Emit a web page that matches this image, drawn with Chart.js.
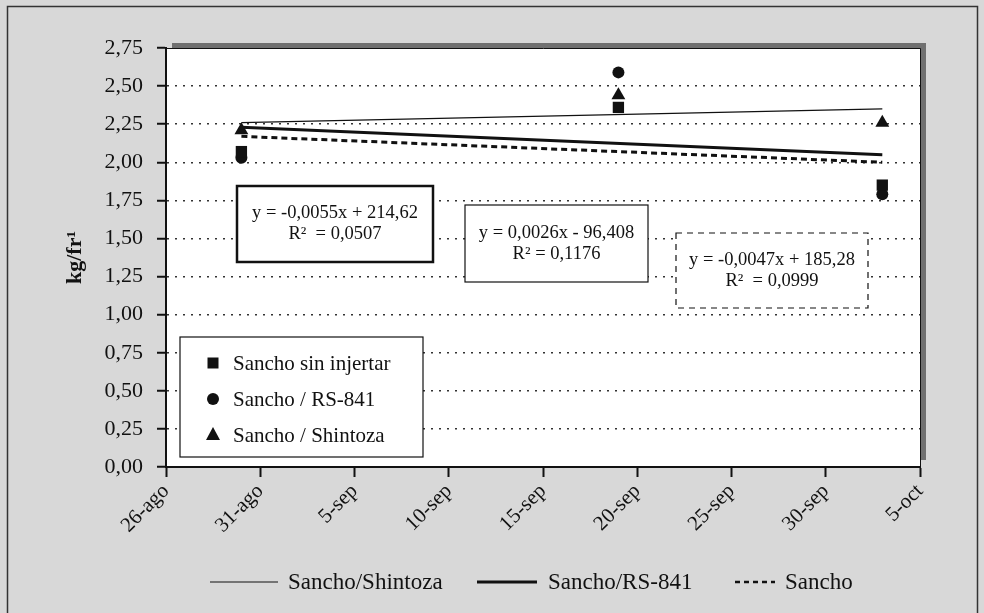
<!DOCTYPE html>
<html>
<head>
<meta charset="utf-8">
<script src="https://cdn.jsdelivr.net/npm/chart.js@4.4.1/dist/chart.umd.min.js"></script>
<style>
  html, body { margin: 0; padding: 0; background: #d8d8d8; }
  #wrap { width: 984px; height: 613px; }
</style>
</head>
<body>
<div id="wrap"><canvas id="chart" width="984" height="613"></canvas></div>
<script>
// tick labels of the date axis (day-month, Spanish)
const xTickLabels = ['26-ago', '31-ago', '5-sep', '10-sep', '15-sep', '20-sep', '25-sep', '30-sep', '5-oct'];

// sampling dates
const sampleDates = ['30-ago', '19-sep', '3-oct'];

// kg/fr values per graft
const sinInjertar = [2.07, 2.36, 1.85];
const rs841 = [2.03, 2.59, 1.79];
const shintoza = [2.21, 2.44, 2.26];

// trend lines, value at first and last sampling date
const trendShintoza = [2.26, 2.35];
const trendRS841 = [2.23, 2.05];
const trendSancho = [2.17, 2.00];

// regression labels
const eqRS841 = ['y = -0,0055x + 214,62', 'R²  = 0,0507'];
const eqShintoza = ['y = 0,0026x - 96,408', 'R² = 0,1176'];
const eqSancho = ['y = -0,0047x + 185,28', 'R²  = 0,0999'];

const FONT = '"Liberation Serif", "Times New Roman", serif';
const INK = '#111';

const monthStart = { ago: 0, sep: 31, oct: 61 };
function dayOffset(label) {
    const parts = label.split('-');
    return monthStart[parts[1]] + Number(parts[0]) - 26;
}

function points(values) {
    return values.map((v, i) => ({ x: dayOffset(sampleDates[i]), y: v }));
}

function trend(values) {
    return [
        { x: dayOffset(sampleDates[0]), y: values[0] },
        { x: dayOffset(sampleDates[sampleDates.length - 1]), y: values[1] }
    ];
}

function drawMarker(ctx, style, x, y) {
    ctx.fillStyle = INK;
    ctx.beginPath();
    if (style === 'rect') {
        ctx.rect(x - 5.5, y - 5.5, 11, 11);
    } else if (style === 'circle') {
        ctx.arc(x, y, 6, 0, Math.PI * 2);
    } else {
        ctx.moveTo(x, y - 8);
        ctx.lineTo(x + 7, y + 5);
        ctx.lineTo(x - 7, y + 5);
        ctx.closePath();
    }
    ctx.fill();
}

function drawEqBox(ctx, box) {
    ctx.save();
    ctx.fillStyle = '#fff';
    ctx.fillRect(box.x, box.y, box.w, box.h);
    ctx.strokeStyle = INK;
    ctx.lineWidth = box.lw;
    ctx.setLineDash(box.dash || []);
    ctx.strokeRect(box.x, box.y, box.w, box.h);
    ctx.setLineDash([]);
    ctx.fillStyle = INK;
    ctx.font = '18.5px ' + FONT;
    ctx.textAlign = 'center';
    ctx.textBaseline = 'middle';
    ctx.fillText(box.lines[0], box.x + box.w / 2, box.y + box.t1);
    ctx.fillText(box.lines[1], box.x + box.w / 2, box.y + box.t1 + 21);
    ctx.restore();
}

const framePlugin = {
    id: 'frame',
    beforeDraw(chart) {
        const ctx = chart.ctx;
        const ca = chart.chartArea;
        ctx.save();
        ctx.fillStyle = '#d8d8d8';
        ctx.fillRect(0, 0, chart.width, chart.height);
        ctx.strokeStyle = '#333';
        ctx.lineWidth = 1.5;
        ctx.strokeRect(7.5, 6.5, 970, 630);
        // shadow of the plot area
        ctx.fillStyle = '#707070';
        ctx.fillRect(ca.left + 6, ca.top - 5, ca.right - ca.left, 5);
        ctx.fillRect(ca.right, ca.top - 5, 6, ca.bottom - ca.top - 2);
        ctx.fillStyle = '#fff';
        ctx.fillRect(ca.left, ca.top, ca.right - ca.left, ca.bottom - ca.top);
        ctx.restore();
    },
    afterDraw(chart) {
        const ctx = chart.ctx;
        const ca = chart.chartArea;
        ctx.save();
        ctx.strokeStyle = INK;
        ctx.lineWidth = 1;
        ctx.beginPath();
        ctx.moveTo(ca.left, ca.top + 0.5);
        ctx.lineTo(ca.right + 0.5, ca.top + 0.5);
        ctx.lineTo(ca.right + 0.5, ca.bottom);
        ctx.stroke();

        drawEqBox(ctx, { x: 237, y: 186, w: 196, h: 76, lw: 2.5, t1: 27, lines: eqRS841 });
        drawEqBox(ctx, { x: 465, y: 205, w: 183, h: 77, lw: 1.2, t1: 28, lines: eqShintoza });
        drawEqBox(ctx, { x: 676, y: 233, w: 192, h: 75, lw: 1.2, dash: [6, 5], t1: 27, lines: eqSancho });

        // marker legend inside the plot
        ctx.fillStyle = '#fff';
        ctx.fillRect(180, 337, 243, 120);
        ctx.strokeStyle = INK;
        ctx.lineWidth = 1.2;
        ctx.strokeRect(180, 337, 243, 120);
        const items = [
            ['rect', 'Sancho sin injertar'],
            ['circle', 'Sancho / RS-841'],
            ['triangle', 'Sancho / Shintoza']
        ];
        ctx.font = '21px ' + FONT;
        ctx.textBaseline = 'middle';
        items.forEach((it, i) => {
            const y = 363 + i * 36;
            drawMarker(ctx, it[0], 213, y);
            ctx.fillStyle = INK;
            ctx.fillText(it[1], 233, y + 1);
        });

        // line legend under the axis
        const ly = 582;
        const lines = [
            { x1: 210, x2: 278, tx: 288, lw: 1.2, dash: [], text: 'Sancho/Shintoza' },
            { x1: 477, x2: 537, tx: 548, lw: 3, dash: [], text: 'Sancho/RS-841' },
            { x1: 735, x2: 775, tx: 785, lw: 2.5, dash: [5, 4], text: 'Sancho' }
        ];
        ctx.font = '23px ' + FONT;
        lines.forEach(l => {
            ctx.strokeStyle = INK;
            ctx.lineWidth = l.lw;
            ctx.setLineDash(l.dash);
            ctx.beginPath();
            ctx.moveTo(l.x1, ly);
            ctx.lineTo(l.x2, ly);
            ctx.stroke();
            ctx.setLineDash([]);
            ctx.fillStyle = INK;
            ctx.fillText(l.text, l.tx, ly + 1);
        });
        ctx.restore();
    }
};

const ctx = document.getElementById('chart');
new Chart(ctx, {
    type: 'scatter',
    data: {
        datasets: [
            {
                label: 'Sancho / Shintoza',
                data: points(shintoza),
                pointStyle: 'triangle',
                pointRadius: 8,
                backgroundColor: INK,
                borderColor: INK,
                borderWidth: 0,
                order: 0
            },
            {
                label: 'Sancho sin injertar',
                data: points(sinInjertar),
                pointStyle: 'rect',
                pointRadius: 8,
                backgroundColor: INK,
                borderColor: INK,
                borderWidth: 0,
                order: 1
            },
            {
                label: 'Sancho / RS-841',
                data: points(rs841),
                pointStyle: 'circle',
                pointRadius: 6,
                backgroundColor: INK,
                borderColor: INK,
                borderWidth: 0,
                order: 2
            },
            {
                label: 'Sancho/Shintoza',
                data: trend(trendShintoza),
                showLine: true,
                pointRadius: 0,
                borderColor: INK,
                borderWidth: 1.3,
                order: 3
            },
            {
                label: 'Sancho/RS-841',
                data: trend(trendRS841),
                showLine: true,
                pointRadius: 0,
                borderColor: INK,
                borderWidth: 3,
                order: 4
            },
            {
                label: 'Sancho',
                data: trend(trendSancho),
                showLine: true,
                pointRadius: 0,
                borderColor: INK,
                borderWidth: 3,
                borderDash: [6, 4],
                order: 5
            }
        ]
    },
    options: {
        responsive: false,
        animation: false,
        events: [],
        layout: { padding: { left: 60, top: 48, right: 64, bottom: 0 } },
        plugins: {
            legend: { display: false },
            tooltip: { enabled: false }
        },
        scales: {
            x: {
                type: 'linear',
                min: dayOffset(xTickLabels[0]),
                max: dayOffset(xTickLabels[xTickLabels.length - 1]),
                afterFit: s => { s.height = 146; },
                ticks: {
                    stepSize: 5,
                    autoSkip: false,
                    minRotation: 45,
                    maxRotation: 45,
                    padding: 2,
                    color: INK,
                    font: { family: FONT, size: 21 },
                    callback: v => {
                        const lbl = xTickLabels.find(t => dayOffset(t) === v);
                        return lbl || '';
                    }
                },
                grid: {
                    drawOnChartArea: false,
                    drawTicks: true,
                    tickLength: 10,
                    tickColor: INK,
                    tickWidth: 2
                },
                border: { color: INK, width: 2 }
            },
            y: {
                min: 0,
                max: 2.75,
                afterFit: s => { s.width = 106; },
                ticks: {
                    stepSize: 0.25,
                    padding: 14,
                    color: INK,
                    font: { family: FONT, size: 22 },
                    callback: v => v.toFixed(2).replace('.', ',')
                },
                grid: {
                    color: c => (c.tick && c.tick.value > 0 && c.tick.value < 2.75) ? '#333' : 'rgba(0,0,0,0)',
                    lineWidth: 1.5,
                    tickColor: INK,
                    tickLength: 9,
                    tickWidth: 2
                },
                border: { color: INK, width: 2, dash: [2, 6] },
                title: {
                    display: true,
                    text: 'kg/fr¹',
                    color: INK,
                    font: { family: FONT, size: 22, weight: 'bold' },
                    padding: { top: 2, bottom: 2 }
                }
            }
        }
    },
    plugins: [framePlugin]
});
</script>
</body>
</html>
